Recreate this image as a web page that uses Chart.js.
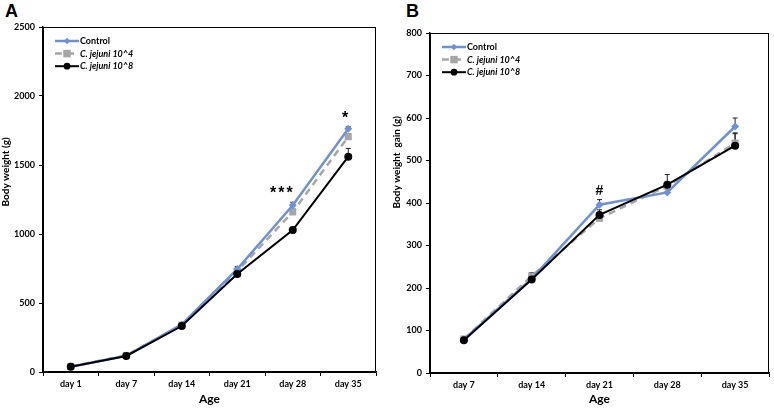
<!DOCTYPE html>
<html>
<head>
<meta charset="utf-8">
<script src="https://cdn.jsdelivr.net/npm/chart.js@4.4.1/dist/chart.umd.min.js"></script>
<style>
  body { margin: 0; background: #fff; width: 774px; height: 408px; position: relative; overflow: hidden; }
  canvas { position: absolute; top: 0; }
  #chartA { left: 0; }
  #chartB { left: 387px; }
  .panel { position: absolute; font: bold 18px "Liberation Sans", Arial, sans-serif; color: #000; }
</style>
</head>
<body>
<div class="panel" style="left:5px; top:1px;">A</div>
<div class="panel" style="left:406px; top:1px;">B</div>
<canvas id="chartA" width="385" height="408"></canvas>
<canvas id="chartB" width="387" height="408"></canvas>
<script>
// Panel A - body weight
const daysA = ["day 1", "day 7", "day 14", "day 21", "day 28", "day 35"];
const controlA = [38, 118, 345, 746, 1208, 1762];
const jejuni4A = [40, 120, 340, 730, 1160, 1705];
const jejuni8A = [38, 116, 333, 710, 1029, 1560];
const controlAErr = [6, 8, 12, 18, 22, 15];
const jejuni4AErr = [6, 8, 12, 18, 20, 20];
const jejuni8AErr = [6, 8, 10, 15, 15, 60];
const marksA = ["", "", "", "", "***", "*"];

// Panel B - body weight gain
const daysB = ["day 7", "day 14", "day 21", "day 28", "day 35"];
const controlB = [79, 222, 396, 425, 580];
const jejuni4B = [80, 228, 364, 440, 541];
const jejuni8B = [77, 220, 372, 443, 535];
const controlBErr = [4, 6, 12, 8, 20];
const jejuni4BErr = [4, 8, 10, 10, 22];
const jejuni8BErr = [4, 6, 12, 24, 30];
const marksB = ["", "", "#", "", ""];

const seriesNames = ["Control", "C. jejuni 10^4", "C. jejuni 10^8"];
const BLUE = "#6f91d3";
const GREY = "#a6a6a6";
const FONT = "Lato, 'Open Sans', sans-serif";

// error bars (upper only) drawn under the markers
const errorBars = {
  id: "errorBars",
  beforeDatasetsDraw(chart, args, opts) {
    const { ctx } = chart;
    const y = chart.scales.y;
    ctx.save();
    ctx.strokeStyle = "#222";
    ctx.lineWidth = 1;
    opts.errors.forEach((errs, i) => {
      const meta = chart.getDatasetMeta(i);
      meta.data.forEach((pt, j) => {
        const top = y.getPixelForValue(chart.data.datasets[i].data[j] + errs[j]);
        ctx.beginPath();
        ctx.moveTo(pt.x, pt.y);
        ctx.lineTo(pt.x, top);
        ctx.moveTo(pt.x - 2.5, top);
        ctx.lineTo(pt.x + 2.5, top);
        ctx.stroke();
      });
    });
    ctx.restore();
  },
  afterDatasetsDraw(chart, args, opts) {
    // significance marks above the highest error bar
    const { ctx } = chart;
    const y = chart.scales.y;
    ctx.save();
    ctx.fillStyle = "#000";
    ctx.textAlign = opts.markAlign;
    ctx.textBaseline = "alphabetic";
    opts.marks.forEach((m, j) => {
      if (!m) return;
      let top = Infinity;
      opts.errors.forEach((errs, i) => {
        const v = chart.data.datasets[i].data[j] + errs[j];
        top = Math.min(top, y.getPixelForValue(v));
      });
      const x = chart.getDatasetMeta(0).data[j].x;
      const star = m.startsWith("*");
      ctx.font = "bold " + (star ? 16 : 14) + "px 'Liberation Sans', Arial, sans-serif";
      ctx.letterSpacing = star ? "2px" : "0px";
      ctx.fillText(m, x + (star ? 2 : 0), top - (star ? 4 : 5));
    });
    ctx.restore();
  },
};

// box around plot, y title, legend inside top-left
const frameLegend = {
  id: "frameLegend",
  afterDraw(chart, args, opts) {
    const { ctx, chartArea: a } = chart;
    ctx.save();
    ctx.strokeStyle = "#000";
    ctx.lineWidth = 1;
    ctx.strokeRect(a.left + 0.5, a.top + 0.5, a.right - a.left - 1, a.bottom - a.top);

    ctx.save();
    ctx.translate(opts.titleX, a.top + (a.bottom - a.top) * opts.titleFrac);
    ctx.rotate(-Math.PI / 2);
    ctx.fillStyle = "#000";
    ctx.font = "bold 10px " + FONT;
    ctx.textAlign = "center";
    ctx.textBaseline = "middle";
    ctx.fillText(opts.title, 0, 0);
    ctx.restore();

    chart.data.datasets.forEach((ds, i) => {
      const yy = a.top + 14 + i * 12.6;
      const x0 = a.left + 12, x1 = a.left + 36, xm = (x0 + x1) / 2;
      ctx.strokeStyle = ds.borderColor;
      ctx.lineWidth = ds.borderWidth;
      ctx.setLineDash(ds.borderDash || []);
      ctx.beginPath();
      ctx.moveTo(x0, yy);
      ctx.lineTo(x1, yy);
      ctx.stroke();
      ctx.setLineDash([]);
      ctx.fillStyle = ds.pointBackgroundColor;
      const r = ds.pointRadius;
      ctx.beginPath();
      if (ds.pointStyle === "rect") {
        ctx.rect(xm - r * 0.75, yy - r * 0.75, r * 1.5, r * 1.5);
      } else if (ds.pointStyle === "rectRot") {
        ctx.moveTo(xm - r * 0.8, yy);
        ctx.lineTo(xm, yy - r * 0.8);
        ctx.lineTo(xm + r * 0.8, yy);
        ctx.lineTo(xm, yy + r * 0.8);
        ctx.closePath();
      } else {
        ctx.arc(xm, yy, r * 0.85, 0, Math.PI * 2);
      }
      ctx.fill();
      ctx.fillStyle = "#000";
      ctx.font = (i === 0 ? "bold " : "italic bold ") + "9px " + FONT;
      ctx.textAlign = "left";
      ctx.textBaseline = "middle";
      ctx.fillText(ds.label, x1 + 1, yy);
    });
    ctx.restore();
  },
};

function makeChart(id, labels, values, errs, marks, yMax, yStep, yTitle, pad, markAlign) {
  const styles = [
    { borderColor: BLUE, pointBackgroundColor: BLUE, pointStyle: "rectRot", pointRadius: 4, borderWidth: 2.5, order: 1 },
    { borderColor: GREY, pointBackgroundColor: GREY, pointStyle: "rect", pointRadius: 5, borderWidth: 2.5, borderDash: [7, 5], order: 2 },
    { borderColor: "#000", pointBackgroundColor: "#000", pointStyle: "circle", pointRadius: 4, borderWidth: 2, order: 0 },
  ];
  return new Chart(document.getElementById(id), {
    type: "line",
    data: {
      labels: labels,
      datasets: values.map((v, i) => ({
        label: seriesNames[i],
        data: v,
        pointBorderWidth: 0,
        pointHoverRadius: 4,
        tension: 0,
        ...styles[i],
      })),
    },
    options: {
      responsive: false,
      animation: false,
      layout: { padding: { left: 0, right: pad.right, top: pad.top, bottom: 0 } },
      plugins: {
        legend: { display: false },
        tooltip: { enabled: false },
        errorBars: { errors: errs, marks: marks, markAlign: markAlign },
        frameLegend: { title: yTitle, titleX: pad.titleX, titleFrac: pad.titleFrac },
      },
      scales: {
        x: {
          offset: true,
          grid: { offset: true, drawOnChartArea: false, drawTicks: true, tickLength: 4, color: "#000" },
          border: { color: "#000", width: 1.5 },
          ticks: { color: "#000", font: { family: FONT, size: 9, weight: "bold" }, padding: 3, maxRotation: 0 },
          title: { display: true, text: "Age", color: "#000", font: { family: FONT, size: 12, weight: "bold" }, padding: { top: 0, bottom: 2 } },
          afterFit: (s) => { s.height = pad.xh; },
        },
        y: {
          min: 0,
          max: yMax,
          grid: { drawOnChartArea: false, drawTicks: true, tickLength: 4, color: "#000" },
          border: { color: "#000", width: 1.5 },
          ticks: { stepSize: yStep, color: "#000", font: { family: FONT, size: 9, weight: "bold" }, padding: 4, callback: (v) => String(v) },
          afterFit: (s) => { s.width = 43; },
        },
      },
    },
    plugins: [errorBars, frameLegend],
  });
}

makeChart("chartA", daysA, [controlA, jejuni4A, jejuni8A], [controlAErr, jejuni4AErr, jejuni8AErr],
  marksA, 2500, 500, "Body weight (g)", { right: 9, top: 27, xh: 36, titleX: 6, titleFrac: 0.42 }, "right");
makeChart("chartB", daysB, [controlB, jejuni4B, jejuni8B], [controlBErr, jejuni4BErr, jejuni8BErr],
  marksB, 800, 100, "Body weight  gain (g)", { right: 2, top: 33, xh: 35, titleX: 10, titleFrac: 0.38 }, "center");
</script>
</body>
</html>
